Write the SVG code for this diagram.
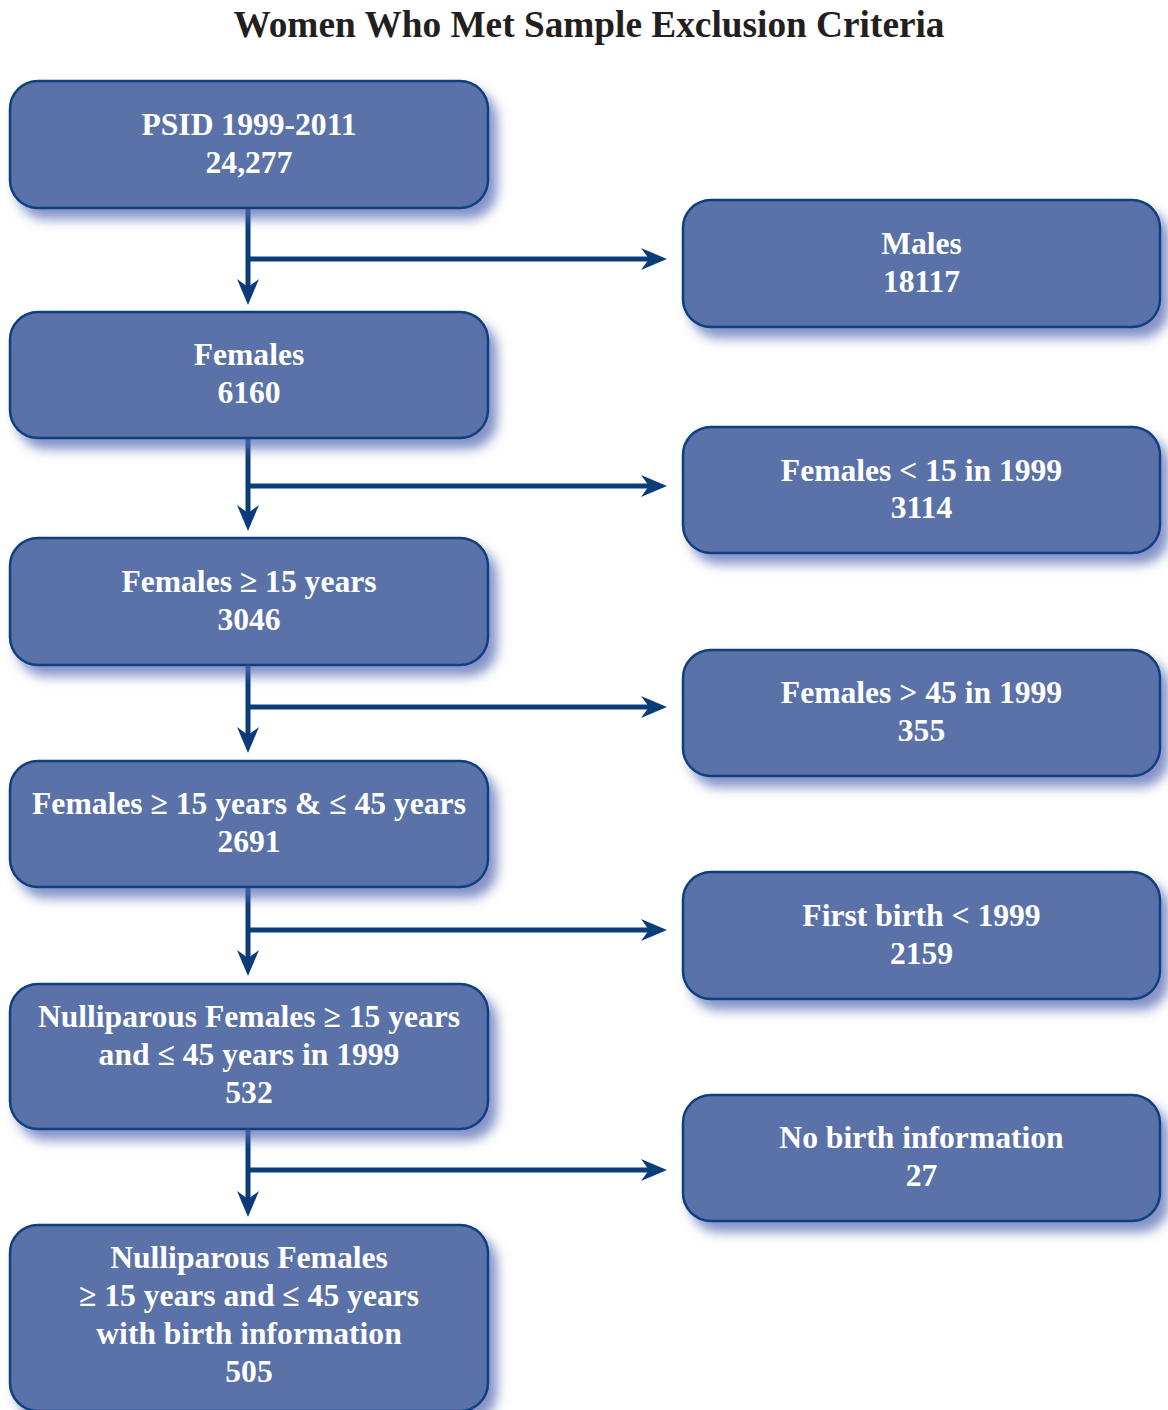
<svg xmlns="http://www.w3.org/2000/svg" width="1168" height="1410" viewBox="0 0 1168 1410">
<style>
.box{fill:#5a72a7;stroke:#0d3f80;stroke-width:2.5;filter:url(#sh)}
.t{font-family:"Liberation Serif","Times New Roman",serif;font-weight:bold;font-size:31.6px;fill:#ffffff;text-anchor:middle}
.title{font-family:"Liberation Serif","Times New Roman",serif;font-weight:bold;font-size:37.3px;fill:#231f20;text-anchor:middle}
.ln{stroke:#0b3c7a;stroke-width:5;fill:none}
.ar{marker-end:url(#ah)}
</style>
<defs>
<filter id="sh" x="-10%" y="-20%" width="130%" height="150%">
<feGaussianBlur in="SourceAlpha" stdDeviation="6"/>
<feOffset dx="8" dy="10" result="b"/>
<feFlood flood-color="#5a6db5" flood-opacity="0.75"/>
<feComposite in2="b" operator="in"/>
<feMerge><feMergeNode/><feMergeNode in="SourceGraphic"/></feMerge>
</filter>
<marker id="ah" viewBox="0 0 26 22" refX="8" refY="11" markerWidth="26" markerHeight="22" markerUnits="userSpaceOnUse" orient="auto">
<path d="M0,0 L26,11 L0,22 L8,11 Z" fill="#0b3c7a"/>
</marker>
</defs>
<rect width="1168" height="1410" fill="#ffffff"/>
<text class="title" x="589" y="37">Women Who Met Sample Exclusion Criteria</text>

<g id="connectors">
<path class="ln ar" d="M248,208 V287"/>
<path class="ln ar" d="M248,259 H649"/>
<path class="ln ar" d="M248,438 V513"/>
<path class="ln ar" d="M248,486 H649"/>
<path class="ln ar" d="M248,665 V735"/>
<path class="ln ar" d="M248,707 H649"/>
<path class="ln ar" d="M248,887 V958"/>
<path class="ln ar" d="M248,930 H649"/>
<path class="ln ar" d="M248,1129 V1199"/>
<path class="ln ar" d="M248,1170 H649"/>
</g>

<g id="n1"><rect class="box" x="10" y="81" width="478" height="127" rx="28"/>
<text class="t" x="249" y="135">PSID 1999-2011</text><text class="t" x="249" y="173">24,277</text></g>
<g id="n2"><rect class="box" x="10" y="312" width="478" height="126" rx="28"/>
<text class="t" x="249" y="365">Females</text><text class="t" x="249" y="403">6160</text></g>
<g id="n3"><rect class="box" x="10" y="538" width="478" height="127" rx="28"/>
<text class="t" x="249" y="592">Females ≥ 15 years</text><text class="t" x="249" y="630">3046</text></g>
<g id="n4"><rect class="box" x="10" y="761" width="478" height="126" rx="28"/>
<text class="t" x="249" y="814">Females ≥ 15 years &amp; ≤ 45 years</text><text class="t" x="249" y="852">2691</text></g>
<g id="n5"><rect class="box" x="10" y="984" width="478" height="145" rx="28"/>
<text class="t" x="249" y="1027">Nulliparous Females ≥ 15 years</text><text class="t" x="249" y="1065">and ≤ 45 years in 1999</text><text class="t" x="249" y="1103">532</text></g>
<g id="n6"><rect class="box" x="10" y="1225" width="478" height="186" rx="28"/>
<text class="t" x="249" y="1268">Nulliparous Females</text><text class="t" x="249" y="1306">≥ 15 years and ≤ 45 years</text><text class="t" x="249" y="1344">with birth information</text><text class="t" x="249" y="1382">505</text></g>

<g id="r1"><rect class="box" x="683" y="200" width="477" height="127" rx="28"/>
<text class="t" x="921.5" y="254">Males</text><text class="t" x="921.5" y="292">18117</text></g>
<g id="r2"><rect class="box" x="683" y="427" width="477" height="126" rx="28"/>
<text class="t" x="921.5" y="481">Females &lt; 15 in 1999</text><text class="t" x="921.5" y="518">3114</text></g>
<g id="r3"><rect class="box" x="683" y="650" width="477" height="126" rx="28"/>
<text class="t" x="921.5" y="703">Females &gt; 45 in 1999</text><text class="t" x="921.5" y="741">355</text></g>
<g id="r4"><rect class="box" x="683" y="872" width="477" height="127" rx="28"/>
<text class="t" x="921.5" y="926">First birth &lt; 1999</text><text class="t" x="921.5" y="964">2159</text></g>
<g id="r5"><rect class="box" x="683" y="1095" width="477" height="126" rx="28"/>
<text class="t" x="921.5" y="1148">No birth information</text><text class="t" x="921.5" y="1186">27</text></g>
</svg>
